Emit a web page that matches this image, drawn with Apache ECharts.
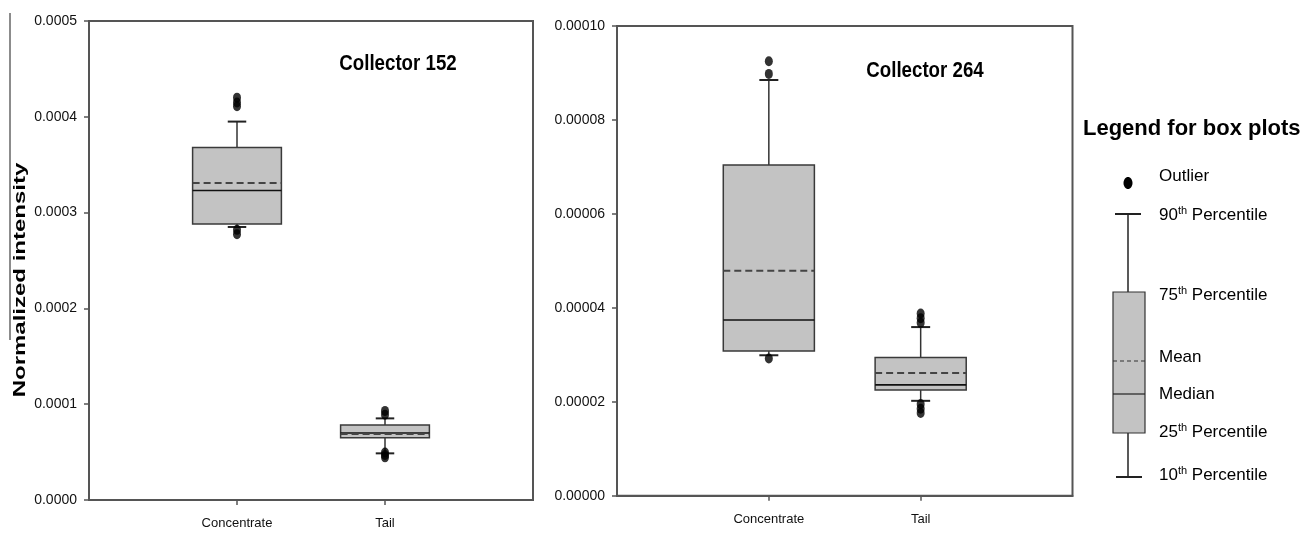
<!DOCTYPE html>
<html>
<head>
<meta charset="utf-8">
<script src="https://cdn.jsdelivr.net/npm/echarts@6/dist/echarts.min.js"></script>
<style>
  html, body { margin: 0; padding: 0; background: #fff; }
  #chart { width: 1312px; height: 535px; }
</style>
</head>
<body>
<div id="chart"></div>
<script>
// ---- DATA ----
const categories = ['Concentrate', 'Tail'];
const panelTitles = ['Collector 152', 'Collector 264'];
const yTitle = 'Normalized intensity';

// box stats: [p10, q1, median, mean, q3, p90]
const c152Concentrate = [0.000285, 0.000288, 0.000323, 0.000331, 0.000368, 0.000395];
const c152Tail        = [0.0000487, 0.0000650, 0.0000700, 0.0000688, 0.0000782, 0.0000852];
const c264Concentrate = [0.0000299, 0.0000308, 0.0000374, 0.0000479, 0.0000704, 0.0000885];
const c264Tail        = [0.0000202, 0.0000225, 0.0000236, 0.0000261, 0.0000294, 0.0000359];

// outliers
const c152ConcentrateOut = [0.000420, 0.000415, 0.000411, 0.000282, 0.0002775];
const c152TailOut        = [0.000093, 0.000089, 0.0000495, 0.000047, 0.0000445];
const c264ConcentrateOut = [0.0000925, 0.0000898, 0.0000292];
const c264TailOut        = [0.0000388, 0.0000378, 0.0000368, 0.0000195, 0.0000185, 0.0000176];

// axis ticks
const y152 = { min: 0, max: 0.0005, interval: 0.0001, decimals: 4 };
const y264 = { min: 0, max: 0.0001, interval: 0.00002, decimals: 5 };

// legend labels
const legendTitle = 'Legend for box plots';
const legendItems = [
  ['', 'Outlier', ''],
  ['90', 'th', ' Percentile'],
  ['75', 'th', ' Percentile'],
  ['', 'Mean', ''],
  ['', 'Median', ''],
  ['25', 'th', ' Percentile'],
  ['10', 'th', ' Percentile']
];

// ---- CHART ----
const axisCats = [''].concat(categories, ['']);
const SANS = "'Liberation Sans', Arial, sans-serif";
const frameColor = '#555';

function renderBox(params, api) {
  const x = api.value(0);
  const p10 = api.coord([x, api.value(1)]);
  const q1 = api.coord([x, api.value(2)]);
  const med = api.coord([x, api.value(3)]);
  const mean = api.coord([x, api.value(4)]);
  const q3 = api.coord([x, api.value(5)]);
  const p90 = api.coord([x, api.value(6)]);
  const band = api.size([1, 0])[0];
  const w = band * 0.6;
  const cap = band * 0.125;
  const cx = q1[0];
  const wStyle = { stroke: '#333', lineWidth: 1.5 };
  return {
    type: 'group',
    children: [
      { type: 'line', shape: { x1: cx, y1: q3[1], x2: cx, y2: p90[1] }, style: wStyle },
      { type: 'line', shape: { x1: cx - cap / 2, y1: p90[1], x2: cx + cap / 2, y2: p90[1] }, style: { stroke: '#222', lineWidth: 2 } },
      { type: 'line', shape: { x1: cx, y1: q1[1], x2: cx, y2: p10[1] }, style: wStyle },
      { type: 'line', shape: { x1: cx - cap / 2, y1: p10[1], x2: cx + cap / 2, y2: p10[1] }, style: { stroke: '#222', lineWidth: 2 } },
      { type: 'rect', shape: { x: cx - w / 2, y: q3[1], width: w, height: q1[1] - q3[1] },
        style: { fill: '#c3c3c3', stroke: '#3a3a3a', lineWidth: 1.5 } },
      { type: 'line', shape: { x1: cx - w / 2, y1: med[1], x2: cx + w / 2, y2: med[1] }, style: { stroke: '#111', lineWidth: 1.6 } },
      { type: 'line', shape: { x1: cx - w / 2, y1: mean[1], x2: cx + w / 2, y2: mean[1] }, style: { stroke: '#444', lineWidth: 2, lineDash: [7, 4] } }
    ]
  };
}

function xAxisFor(i) {
  return {
    type: 'category', gridIndex: i, data: axisCats, boundaryGap: false,
    axisLine: { show: true, lineStyle: { color: frameColor, width: 2 } },
    axisTick: { show: true, length: 5, interval: function (idx) { return idx === 1 || idx === 2; }, lineStyle: { color: frameColor, width: 1.5 } },
    axisLabel: { interval: 0, margin: 17, fontFamily: SANS, fontSize: 13, color: '#111' },
    splitLine: { show: false }
  };
}
function yAxisFor(i, cfg) {
  return {
    type: 'value', gridIndex: i, min: cfg.min, max: cfg.max, interval: cfg.interval,
    axisLine: { show: true, lineStyle: { color: frameColor, width: 2 } },
    axisTick: { show: true, length: 5, lineStyle: { color: frameColor, width: 1.5 } },
    axisLabel: { margin: 12, fontFamily: SANS, fontSize: 14, color: '#111',
      formatter: function (v) { return v.toFixed(cfg.decimals); } },
    splitLine: { show: false }
  };
}
function outliers(a, b) {
  return a.map(function (v) { return [1, v]; }).concat(b.map(function (v) { return [2, v]; }));
}

// legend graphics
const LX = 1128, LT = 1159;
const legendY = [176, 215, 295, 357, 394, 432, 475];
const legendGraphics = [
  { type: 'text', left: 1083, top: 118, style: { text: legendTitle, font: 'bold 22px ' + SANS, fill: '#000' } },
  { type: 'ellipse', shape: { cx: LX, cy: 183, rx: 4.5, ry: 6 }, style: { fill: '#000' } },
  { type: 'line', shape: { x1: 1115, y1: 214, x2: 1141, y2: 214 }, style: { stroke: '#222', lineWidth: 2 } },
  { type: 'line', shape: { x1: LX, y1: 214, x2: LX, y2: 292 }, style: { stroke: '#222', lineWidth: 1.5 } },
  { type: 'line', shape: { x1: LX, y1: 433, x2: LX, y2: 477 }, style: { stroke: '#222', lineWidth: 1.5 } },
  { type: 'line', shape: { x1: 1116, y1: 477, x2: 1142, y2: 477 }, style: { stroke: '#222', lineWidth: 2 } },
  { type: 'rect', shape: { x: 1113, y: 292, width: 32, height: 141 }, style: { fill: '#c3c3c3', stroke: '#333', lineWidth: 1.2 } },
  { type: 'line', shape: { x1: 1113, y1: 361, x2: 1145, y2: 361 }, style: { stroke: '#333', lineWidth: 1.2, lineDash: [4, 3] } },
  { type: 'line', shape: { x1: 1113, y1: 394, x2: 1145, y2: 394 }, style: { stroke: '#222', lineWidth: 1.2 } }
];
legendItems.forEach(function (it, i) {
  const txt = it[1] === 'th'
    ? '{n|' + it[0] + '}{s|th}{n|' + it[2] + '}'
    : '{n|' + it[1] + '}';
  legendGraphics.push({
    type: 'text', x: LT, y: legendY[i],
    style: {
      text: txt, verticalAlign: 'middle', align: 'left',
      rich: {
        n: { fontFamily: SANS, fontSize: 17, color: '#111', lineHeight: 20 },
        s: { fontFamily: SANS, fontSize: 11, color: '#111', verticalAlign: 'top', lineHeight: 12 }
      }
    }
  });
});

const option = {
  animation: false,
  backgroundColor: '#fff',
  grid: [
    { left: 89, top: 21, width: 444, height: 479, show: true, borderColor: frameColor, borderWidth: 2, backgroundColor: 'transparent' },
    { left: 617, top: 26, width: 455.5, height: 469.7, show: true, borderColor: frameColor, borderWidth: 2, backgroundColor: 'transparent' }
  ],
  xAxis: [xAxisFor(0), xAxisFor(1)],
  yAxis: [yAxisFor(0, y152), yAxisFor(1, y264)],
  series: [
    { type: 'custom', xAxisIndex: 0, yAxisIndex: 0, renderItem: renderBox,
      encode: { x: 0, y: [1, 2, 3, 4, 5, 6] },
      data: [[1].concat(c152Concentrate), [2].concat(c152Tail)] },
    { type: 'custom', xAxisIndex: 1, yAxisIndex: 1, renderItem: renderBox,
      encode: { x: 0, y: [1, 2, 3, 4, 5, 6] },
      data: [[1].concat(c264Concentrate), [2].concat(c264Tail)] },
    { type: 'scatter', xAxisIndex: 0, yAxisIndex: 0, symbol: 'circle', symbolSize: [8, 10],
      itemStyle: { color: '#000' }, data: outliers(c152ConcentrateOut, c152TailOut), z: 5 },
    { type: 'scatter', xAxisIndex: 1, yAxisIndex: 1, symbol: 'circle', symbolSize: [8, 10],
      itemStyle: { color: '#000' }, data: outliers(c264ConcentrateOut, c264TailOut), z: 5 }
  ],
  graphic: [
    { type: 'line', shape: { x1: 10, y1: 13, x2: 10, y2: 340 }, style: { stroke: '#666', lineWidth: 1.5 } },
    { type: 'text', x: 20, y: 280, rotation: Math.PI / 2, scaleX: 1, scaleY: 0.72,
      style: { text: yTitle, font: 'bold 24px ' + SANS, fill: '#000', align: 'center', verticalAlign: 'middle' } },
    { type: 'text', x: 398, y: 64, scaleX: 0.85,
      style: { text: panelTitles[0], font: 'bold 22px ' + SANS, fill: '#000', align: 'center', verticalAlign: 'middle' } },
    { type: 'text', x: 925, y: 71, scaleX: 0.85,
      style: { text: panelTitles[1], font: 'bold 22px ' + SANS, fill: '#000', align: 'center', verticalAlign: 'middle' } }
  ].concat(legendGraphics)
};

const chart = echarts.init(document.getElementById('chart'), null, { renderer: 'canvas' });
chart.setOption(option);
</script>
</body>
</html>
